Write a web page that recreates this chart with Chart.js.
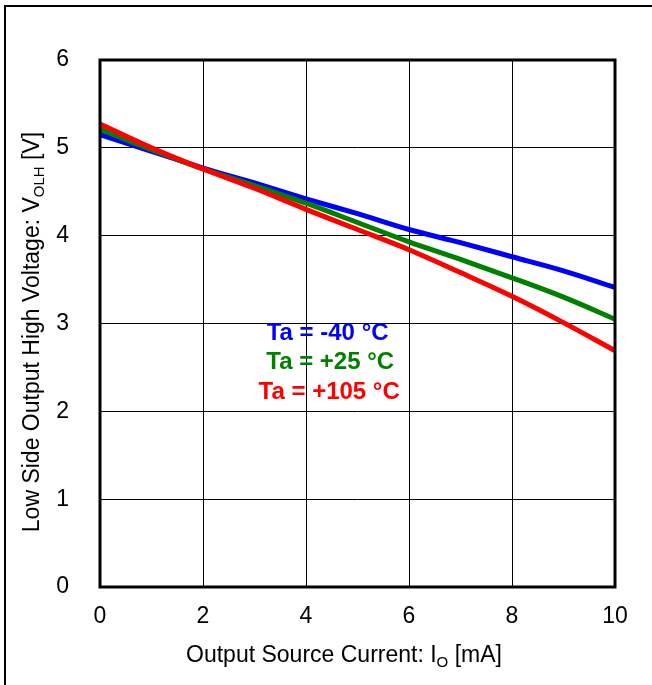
<!DOCTYPE html>
<html>
<head>
<meta charset="utf-8">
<script src="https://cdn.jsdelivr.net/npm/chart.js@4"></script>
<style>
    html, body { margin: 0; padding: 0; background: #fff; }
    #wrap { position: relative; width: 652px; height: 685px; overflow: hidden; }
    #frame { position: absolute; left: 4px; top: 5px; width: 700px; height: 700px; border: 2px solid #000; box-sizing: border-box; }
    canvas { position: absolute; left: 0; top: 0; }
</style>
</head>
<body>
<div id="wrap">
    <div id="frame"></div>
    <canvas id="chart" width="652" height="685"></canvas>
</div>
<script>
// output source current [mA]
const currents = [0, 1, 2, 3, 4, 5, 6, 7, 8, 9, 10];

// V_OLH [V] for each temperature
const vMinus40 = [5.15, 4.96, 4.77, 4.60, 4.42, 4.25, 4.07, 3.92, 3.76, 3.60, 3.41];
const vPlus25 = [5.21, 4.98, 4.76, 4.57, 4.37, 4.15, 3.93, 3.73, 3.52, 3.30, 3.05];
const vPlus105 = [5.27, 5.00, 4.76, 4.54, 4.30, 4.07, 3.84, 3.58, 3.31, 3.01, 2.69];

const seriesNames = ['Ta = +105 °C', 'Ta = +25 °C', 'Ta = -40 °C'];
const seriesColors = ['#ff0000', '#008000', '#0000ff'];

// where the in-plot labels sit (data coordinates)
const labelX = [4.45, 4.47, 4.42];
const labelY = [2.22, 2.56, 2.89];

const xTicks = [0, 2, 4, 6, 8, 10];
const yTicks = [0, 1, 2, 3, 4, 5, 6];

const FONT = "'Liberation Sans', Arial, sans-serif";

function mkSet(name, vals, color, order) {
    return {
        label: name,
        data: currents.map((c, i) => ({ x: c, y: vals[i] })),
        borderColor: color,
        backgroundColor: color,
        borderWidth: 5,
        pointRadius: 0,
        cubicInterpolationMode: 'monotone',
        order: order
    };
}

// draws text pieces, some of them as subscript
function drawParts(ctx, parts, x, y, size) {
    let total = 0;
    parts.forEach(p => {
        ctx.font = (p.sub ? Math.round(size * 0.65) : size) + 'px ' + FONT;
        p.w = ctx.measureText(p.t).width;
        total += p.w;
    });
    let cx = x - total / 2;
    parts.forEach(p => {
        ctx.font = (p.sub ? Math.round(size * 0.65) : size) + 'px ' + FONT;
        ctx.fillText(p.t, cx, p.sub ? y + size * 0.22 : y);
        cx += p.w;
    });
}

const decorPlugin = {
    id: 'decor',
    afterDatasetsDraw(chart) {
        const ctx = chart.ctx;
        const a = chart.chartArea;
        ctx.save();
        // thick plot frame
        ctx.strokeStyle = '#000';
        ctx.lineWidth = 3;
        ctx.strokeRect(a.left, a.top, a.right - a.left, a.bottom - a.top);

        // series labels inside plot
        const xs = chart.scales.x, ys = chart.scales.y;
        ctx.font = 'bold 24px ' + FONT;
        ctx.textAlign = 'center';
        ctx.textBaseline = 'middle';
        seriesNames.forEach((n, i) => {
            ctx.fillStyle = seriesColors[i];
            ctx.fillText(n, xs.getPixelForValue(labelX[i]), ys.getPixelForValue(labelY[i]));
        });

        // axis titles with subscripts
        ctx.fillStyle = '#000';
        ctx.textAlign = 'left';
        ctx.textBaseline = 'alphabetic';
        drawParts(ctx, [
            { t: 'Output Source Current: I' },
            { t: 'O', sub: true },
            { t: ' [mA]' }
        ], 344, 662, 23);

        ctx.translate(39, 332);
        ctx.rotate(-Math.PI / 2);
        drawParts(ctx, [
            { t: 'Low Side Output High Voltage: V' },
            { t: 'OLH', sub: true },
            { t: ' [V]' }
        ], 0, 0, 23);
        ctx.restore();
    }
};

new Chart(document.getElementById('chart').getContext('2d'), {
    type: 'line',
    data: {
        datasets: [
            mkSet(seriesNames[0], vPlus105, seriesColors[0], 0),
            mkSet(seriesNames[1], vPlus25, seriesColors[1], 1),
            mkSet(seriesNames[2], vMinus40, seriesColors[2], 2)
        ]
    },
    options: {
        responsive: false,
        animation: false,
        layout: { padding: { left: 0, top: 60, right: 37, bottom: 0 } },
        plugins: {
            legend: { display: false },
            tooltip: { enabled: false }
        },
        scales: {
            x: {
                type: 'linear',
                min: 0,
                max: 10,
                afterBuildTicks: s => { s.ticks = xTicks.map(v => ({ value: v })); },
                afterFit: s => { s.height = 98; },
                grid: { color: '#000', lineWidth: 1, drawTicks: false },
                border: { display: false },
                ticks: {
                    color: '#000',
                    padding: 16,
                    maxRotation: 0,
                    font: { family: FONT, size: 23 }
                }
            },
            y: {
                type: 'linear',
                min: 0,
                max: 6,
                afterBuildTicks: s => { s.ticks = yTicks.map(v => ({ value: v })); },
                afterFit: s => { s.width = 100; },
                grid: { color: '#000', lineWidth: 1, drawTicks: false },
                border: { display: false },
                ticks: {
                    color: '#000',
                    padding: 31,
                    font: { family: FONT, size: 23 }
                }
            }
        }
    },
    plugins: [decorPlugin]
});
</script>
</body>
</html>
